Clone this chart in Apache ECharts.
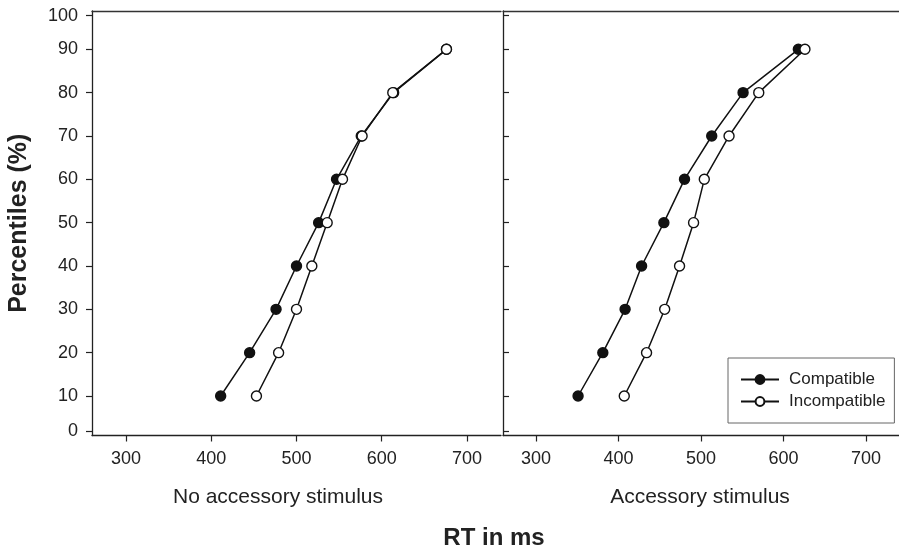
<!DOCTYPE html>
<html>
<head>
<meta charset="utf-8">
<script src="https://cdn.jsdelivr.net/npm/echarts@6/dist/echarts.min.js"></script>
<style>html,body{margin:0;padding:0;background:#fff;}#c{width:899px;height:548px;}</style>
</head>
<body>
<div id="c"></div>
<script>
// ---- data ----
const percentiles = [10, 20, 30, 40, 50, 60, 70, 80, 90];
const noAccCompatible   = [411, 445, 476, 500, 526, 547, 576, 614, 676];
const noAccIncompatible = [453, 479, 500, 518, 536, 554, 577, 613, 676];
const accCompatible     = [351, 381, 408, 428, 455, 480, 513, 551, 618];
const accIncompatible   = [407, 434, 456, 474, 491, 504, 534, 570, 626];
const xTickLabels = [300, 400, 500, 600, 700];
const yTickLabels = [0, 10, 20, 30, 40, 50, 60, 70, 80, 90, 100];
const panelTitles = ['No accessory stimulus', 'Accessory stimulus'];

// the original y axis squeezes its 0 and 100 ticks toward 10 and 90
function yPos(p) { return p === 0 ? 1.92 : (p === 100 ? 97.75 : p); }
const yTickPos = yTickLabels.map(yPos);
function yLabel(v) {
  for (let i = 0; i < yTickPos.length; i++) if (Math.abs(yTickPos[i] - v) < 1e-6) return String(yTickLabels[i]);
  return '';
}
const pairs = (xs) => xs.map((x, i) => [x, percentiles[i]]);

const ink = '#222';
const font = 'Liberation Sans, Arial, sans-serif';

function xAxisBottom(gi) {
  return {
    type: 'value', gridIndex: gi, position: 'bottom', min: 260, max: 740,
    axisLine: { show: true, onZero: false, lineStyle: { color: ink, width: 1.3 } },
    axisTick: { show: true, inside: false, length: 6, customValues: xTickLabels, lineStyle: { color: ink, width: 1.2 } },
    axisLabel: { show: true, customValues: xTickLabels, margin: 15, color: ink, fontSize: 18, fontFamily: font },
    splitLine: { show: false }
  };
}
function xAxisTop(gi) {
  return {
    type: 'value', gridIndex: gi, position: 'top', min: 260, max: 740,
    axisLine: { show: true, onZero: false, lineStyle: { color: '#333', width: 1.3 } },
    axisTick: { show: false }, axisLabel: { show: false }, splitLine: { show: false }
  };
}
function yAxisDef(gi, withLabels) {
  return {
    type: 'value', gridIndex: gi, min: 0.886, max: 98.84,
    name: withLabels ? 'Percentiles (%)' : '', nameLocation: 'middle', nameGap: 60, nameRotate: 90,
    nameTextStyle: { fontSize: 25, fontWeight: 'bold', color: ink, fontFamily: font },
    axisLine: { show: true, onZero: false, lineStyle: { color: ink, width: 1.3 } },
    axisTick: { show: true, inside: !withLabels, length: 6, customValues: yTickPos, lineStyle: { color: ink, width: 1.2 } },
    axisLabel: { show: withLabels, customValues: yTickPos, formatter: yLabel, margin: 14, color: ink, fontSize: 18, fontFamily: font },
    splitLine: { show: false }
  };
}
function seriesDef(name, xs, gi, filled) {
  return {
    name: name, type: 'line', xAxisIndex: gi * 2, yAxisIndex: gi,
    data: pairs(xs), symbol: 'circle', symbolSize: 10, showSymbol: true,
    lineStyle: { color: '#111', width: 1.5 },
    itemStyle: { color: filled ? '#111' : '#fff', borderColor: '#111', borderWidth: 1.4 },
    z: filled ? 2 : 3, animation: false
  };
}

const chart = echarts.init(document.getElementById('c'), null, { renderer: 'canvas' });
chart.setOption({
  backgroundColor: '#fff',
  animation: false,
  grid: [
    { left: 92, top: 11, width: 409, height: 424.5 },
    { left: 503, top: 11, width: 409, height: 424.5 }
  ],
  xAxis: [xAxisBottom(0), xAxisTop(0), xAxisBottom(1), xAxisTop(1)],
  yAxis: [yAxisDef(0, true), yAxisDef(1, false)],
  legend: {
    data: ['Compatible', 'Incompatible'], orient: 'vertical', left: 728, top: 358,
    padding: [13, 9, 13, 12], itemGap: 5, itemWidth: 38, itemHeight: 11,
    borderColor: '#666', borderWidth: 1, backgroundColor: '#fff',
    textStyle: { fontSize: 17, color: ink, fontFamily: font, padding: [0, 0, 0, 5] }
  },
  series: [
    seriesDef('Compatible', noAccCompatible, 0, true),
    seriesDef('Incompatible', noAccIncompatible, 0, false),
    seriesDef('Compatible', accCompatible, 1, true),
    seriesDef('Incompatible', accIncompatible, 1, false)
  ],
  graphic: [
    { type: 'text', x: 278, y: 497, style: { text: panelTitles[0], fontSize: 21, fontFamily: font, fill: ink, textAlign: 'center', textVerticalAlign: 'middle' } },
    { type: 'text', x: 700, y: 497, style: { text: panelTitles[1], fontSize: 21, fontFamily: font, fill: ink, textAlign: 'center', textVerticalAlign: 'middle' } },
    { type: 'text', x: 494, y: 538, style: { text: 'RT in ms', fontSize: 24, fontWeight: 'bold', fontFamily: font, fill: ink, textAlign: 'center', textVerticalAlign: 'middle' } }
  ]
});
</script>
</body>
</html>
